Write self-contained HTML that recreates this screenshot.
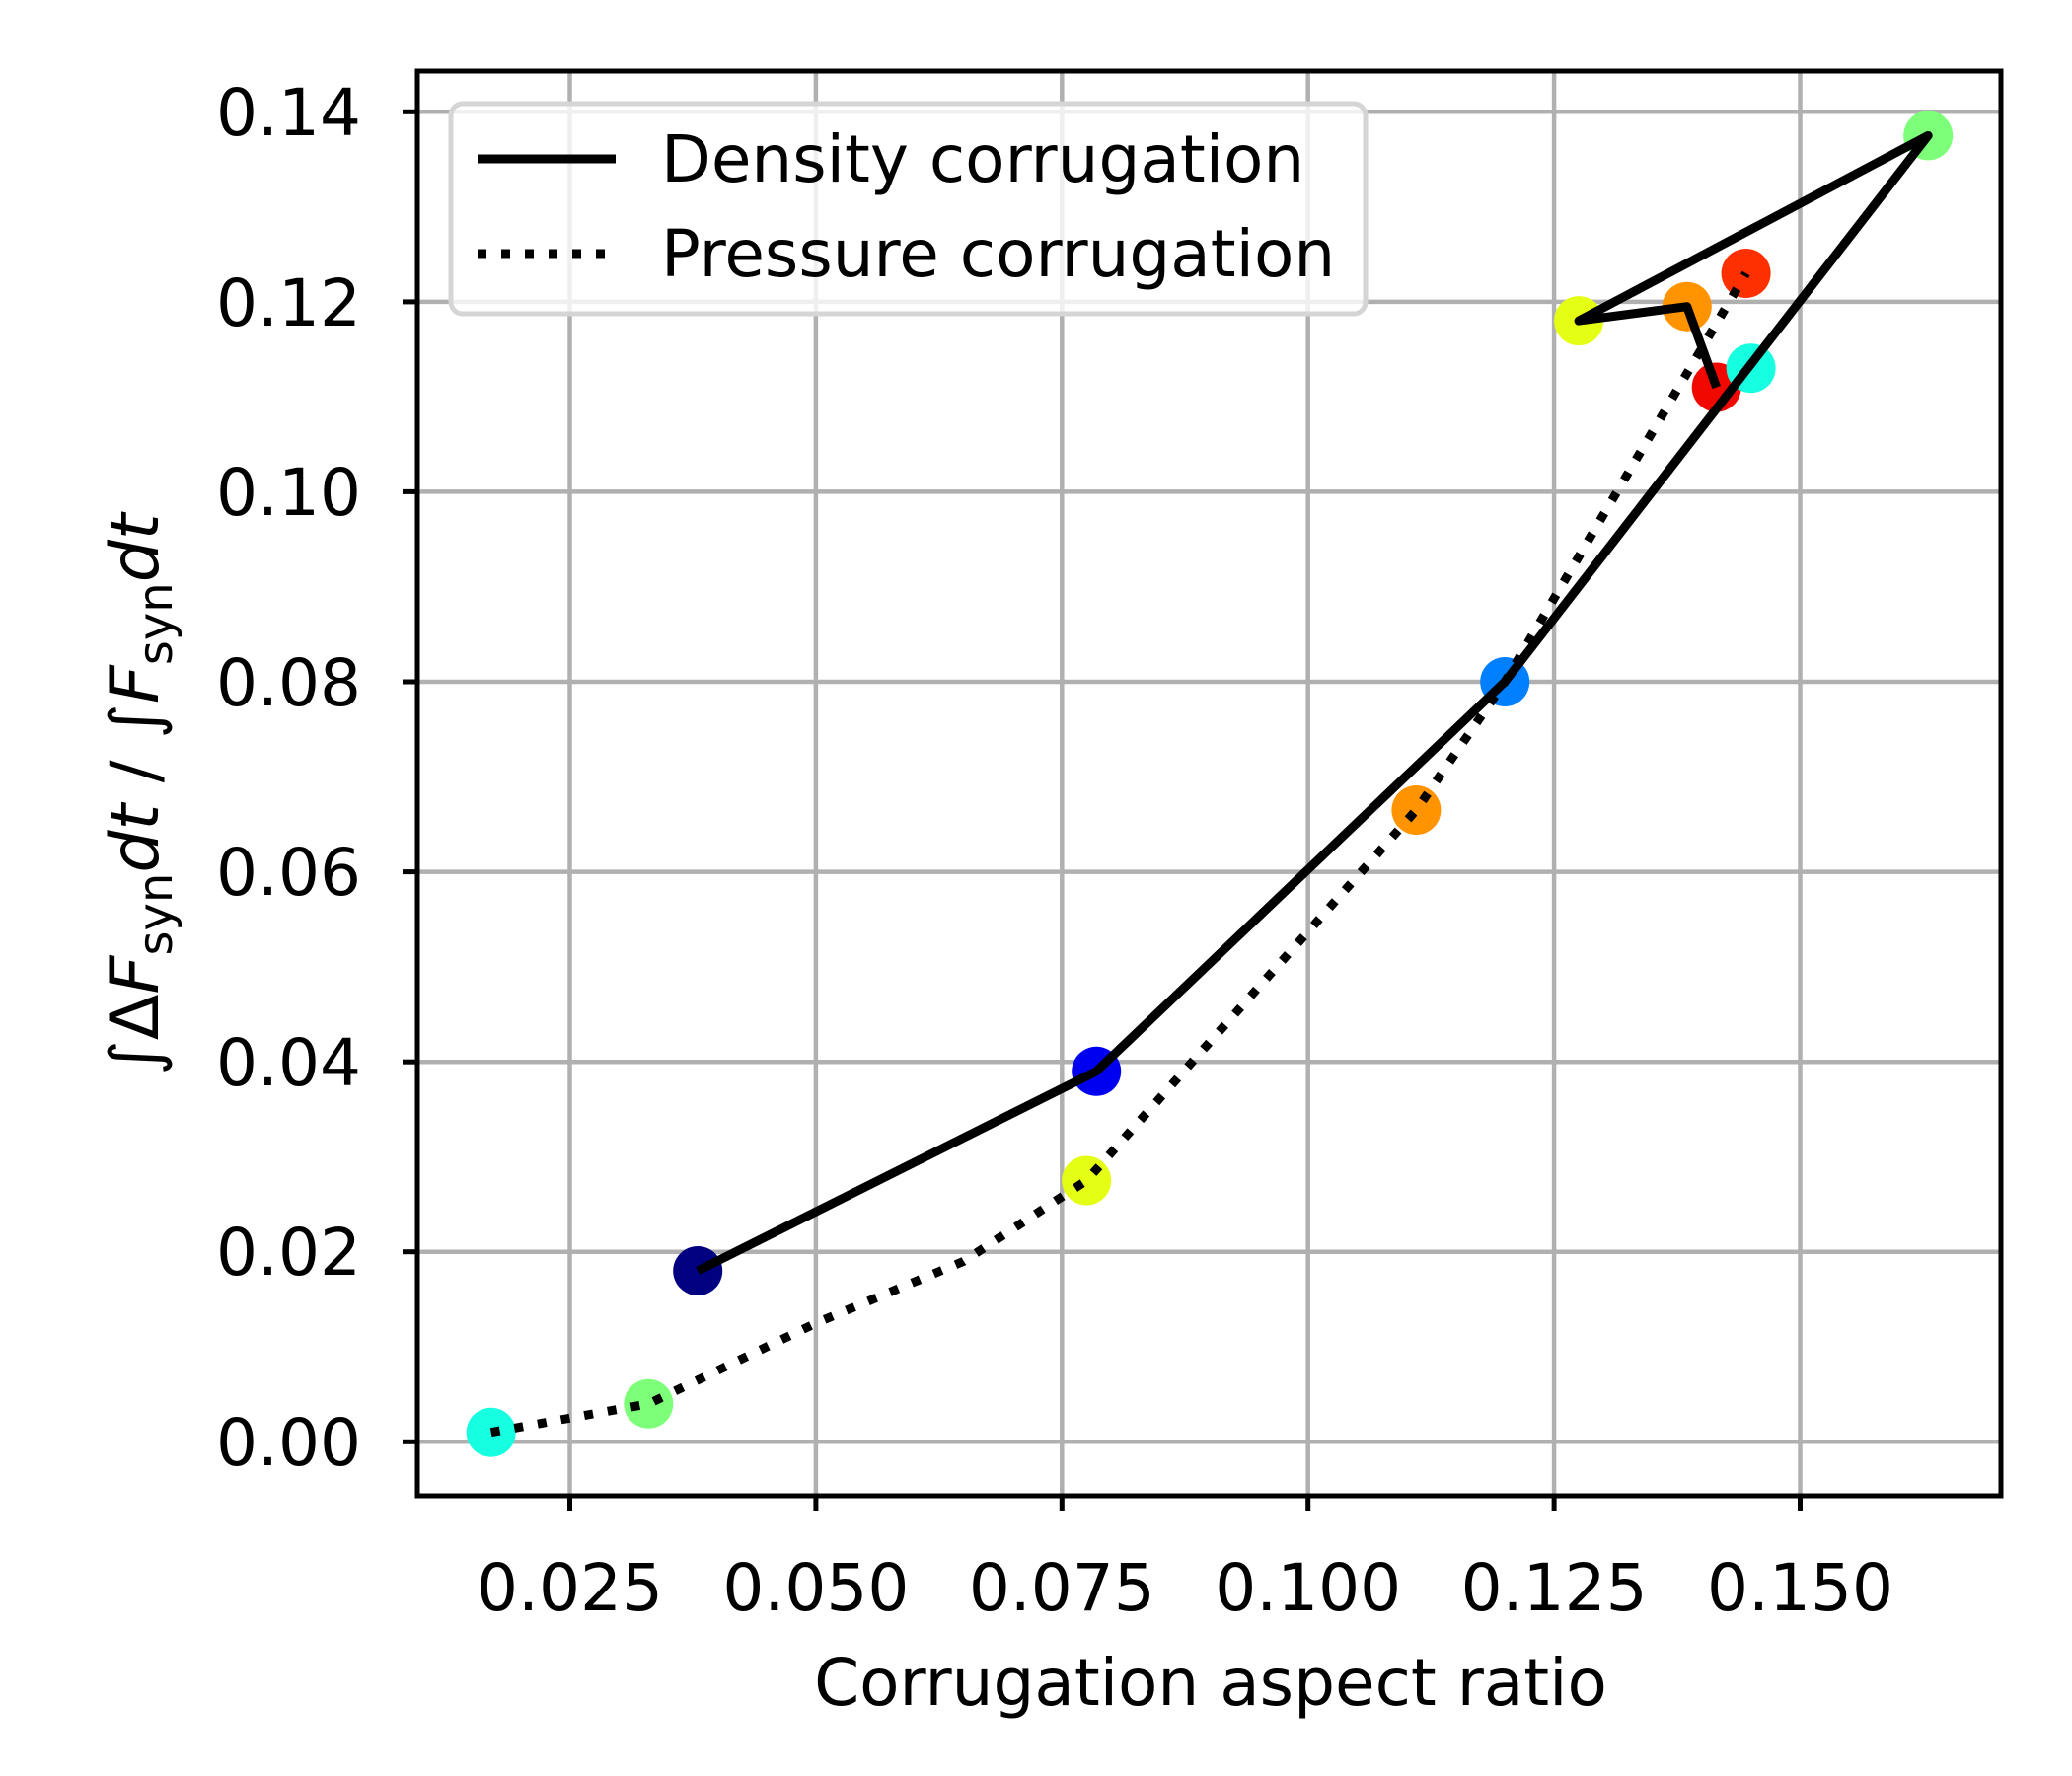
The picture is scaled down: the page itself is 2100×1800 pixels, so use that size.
<!DOCTYPE html>
<html><head><meta charset="utf-8"><style>body{margin:0;background:#fff}svg{display:block}</style></head>
<body>
<svg width="2100" height="1800" xmlns="http://www.w3.org/2000/svg" font-family="DejaVu Sans, Liberation Sans, sans-serif">
<rect width="2100" height="1800" fill="#fff"/>
<g stroke="#b0b0b0" stroke-width="4.5">
<line x1="577.5" y1="72" x2="577.5" y2="1516"/><line x1="826.9" y1="72" x2="826.9" y2="1516"/>
<line x1="1076.3" y1="72" x2="1076.3" y2="1516"/><line x1="1325.7" y1="72" x2="1325.7" y2="1516"/>
<line x1="1575.1" y1="72" x2="1575.1" y2="1516"/><line x1="1824.5" y1="72" x2="1824.5" y2="1516"/>
<line x1="423" y1="1461.3" x2="2028" y2="1461.3"/><line x1="423" y1="1268.7" x2="2028" y2="1268.7"/>
<line x1="423" y1="1076.2" x2="2028" y2="1076.2"/><line x1="423" y1="883.6" x2="2028" y2="883.6"/>
<line x1="423" y1="691" x2="2028" y2="691"/><line x1="423" y1="498.4" x2="2028" y2="498.4"/>
<line x1="423" y1="305.9" x2="2028" y2="305.9"/><line x1="423" y1="113.3" x2="2028" y2="113.3"/>
</g>
<g>
<circle cx="707.2" cy="1288" r="25" fill="#000080"/>
<circle cx="1111.2" cy="1085.8" r="25" fill="#0000f1"/>
<circle cx="1525.2" cy="691" r="25" fill="#0080ff"/>
<circle cx="1954.2" cy="137.4" r="25" fill="#7dff7a"/>
<circle cx="1600.1" cy="325.1" r="25" fill="#e4ff13"/>
<circle cx="1709.8" cy="310.7" r="25" fill="#ff9400"/>
<circle cx="1739.7" cy="392.5" r="25" fill="#f10800"/>
<circle cx="497.7" cy="1451.7" r="25" fill="#16ffe1"/>
<circle cx="657.3" cy="1422.8" r="25" fill="#7dff7a"/>
<circle cx="1101.2" cy="1196.5" r="25" fill="#e4ff13"/>
<circle cx="1435.4" cy="821" r="25" fill="#ff9400"/>
<circle cx="1774.6" cy="373.2" r="25" fill="#16ffe1"/>
<circle cx="1769.6" cy="277" r="25" fill="#ff3000"/>
</g>
<polyline fill="none" stroke="#000" stroke-width="9" stroke-linejoin="round" points="707.2,1288 1111.2,1085.8 1525.2,691 1954.2,137.4 1600.1,325.1 1709.8,310.7 1739.7,392.5"/>
<polyline fill="none" stroke="#000" stroke-width="9" stroke-dasharray="9,15" points="497.7,1451.7 657.3,1422.8 826.9,1341 976.5,1278.4 1101.2,1196.5 1435.4,821 1525.2,691 1769.6,277"/>
<rect x="423" y="72" width="1605" height="1444" fill="none" stroke="#000" stroke-width="5"/>
<g stroke="#000" stroke-width="5">
<line x1="577.5" y1="1516" x2="577.5" y2="1531"/><line x1="826.9" y1="1516" x2="826.9" y2="1531"/>
<line x1="1076.3" y1="1516" x2="1076.3" y2="1531"/><line x1="1325.7" y1="1516" x2="1325.7" y2="1531"/>
<line x1="1575.1" y1="1516" x2="1575.1" y2="1531"/><line x1="1824.5" y1="1516" x2="1824.5" y2="1531"/>
<line x1="408" y1="1461.3" x2="423" y2="1461.3"/><line x1="408" y1="1268.7" x2="423" y2="1268.7"/>
<line x1="408" y1="1076.2" x2="423" y2="1076.2"/><line x1="408" y1="883.6" x2="423" y2="883.6"/>
<line x1="408" y1="691" x2="423" y2="691"/><line x1="408" y1="498.4" x2="423" y2="498.4"/>
<line x1="408" y1="305.9" x2="423" y2="305.9"/><line x1="408" y1="113.3" x2="423" y2="113.3"/>
</g>
<g font-size="66" text-anchor="middle">
<text x="577.5" y="1632">0.025</text><text x="826.9" y="1632">0.050</text>
<text x="1076.3" y="1632">0.075</text><text x="1325.7" y="1632">0.100</text>
<text x="1575.1" y="1632">0.125</text><text x="1824.5" y="1632">0.150</text>
</g>
<g font-size="66" text-anchor="end">
<text x="366" y="1485">0.00</text><text x="366" y="1292">0.02</text>
<text x="366" y="1100">0.04</text><text x="366" y="907">0.06</text>
<text x="366" y="715">0.08</text><text x="366" y="522">0.10</text>
<text x="366" y="330">0.12</text><text x="366" y="137">0.14</text>
</g>
<text x="1227" y="1728" font-size="66" text-anchor="middle">Corrugation aspect ratio</text>
<text transform="translate(160,805) rotate(-90)" font-size="68" text-anchor="middle">∫Δ<tspan font-style="italic">F</tspan><tspan font-size="48" dy="14">syn</tspan><tspan dy="-14" font-style="italic">dt</tspan> / ∫<tspan font-style="italic">F</tspan><tspan font-size="48" dy="14">syn</tspan><tspan dy="-14" font-style="italic">dt</tspan></text>
<rect x="457" y="105" width="927" height="213" rx="12" fill="#fff" fill-opacity="0.8" stroke="#d5d5d5" stroke-width="5"/>
<line x1="484" y1="161" x2="624" y2="161" stroke="#000" stroke-width="9"/>
<line x1="484" y1="257" x2="624" y2="257" stroke="#000" stroke-width="9" stroke-dasharray="9,15"/>
<text x="670" y="184" font-size="66">Density corrugation</text>
<text x="670" y="280" font-size="66">Pressure corrugation</text>
</svg>
</body></html>
